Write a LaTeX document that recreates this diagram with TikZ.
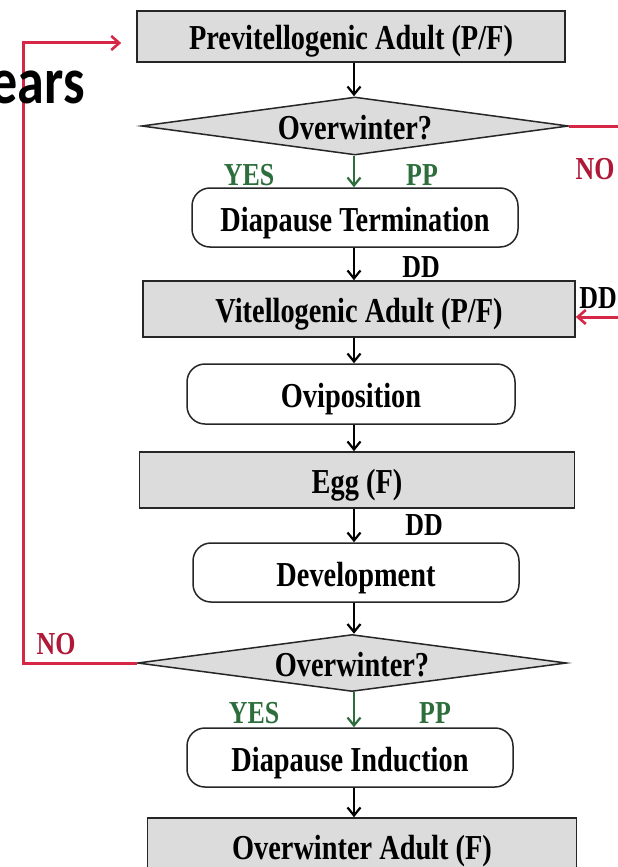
\documentclass[tikz,border=0pt]{standalone}
\usepackage{fontspec}
\setmainfont{Liberation Serif}[FakeStretch=0.81]
\newfontfamily\earsfont{Carlito}[FakeStretch=0.82]
\usetikzlibrary{shapes.geometric,arrows.meta}
\definecolor{boxgray}{RGB}{220,220,220}
\definecolor{lnred}{RGB}{214,40,70}
\definecolor{txred}{RGB}{175,25,55}
\definecolor{txgreen}{RGB}{45,110,60}
\begin{document}
\begin{tikzpicture}[x=1pt,y=-1pt,
  every node/.style={font=\fontsize{35}{40}\selectfont\bfseries},
  txt/.style={text height=27pt,text depth=0pt},
  sqbox/.style={txt,draw=black!85,line width=1.6pt,fill=boxgray,inner sep=0},
  rbox/.style={txt,draw=black!85,line width=1.5pt,fill=white,rounded corners=18pt,
    minimum width=326pt,minimum height=59pt,inner sep=0},
  dia/.style={txt,diamond,draw=black!85,line width=1.5pt,fill=boxgray,aspect=7.4,
    minimum width=427pt,minimum height=58pt,inner sep=0},
  lab/.style={font=\fontsize{32}{36}\selectfont\bfseries,inner sep=0},
  arr/.style={-{Straight Barb[length=8pt,width=13pt,line width=2.2pt]},line width=2.2pt,black},
  garr/.style={-{Straight Barb[length=8pt,width=13pt,line width=2.2pt]},line width=2.2pt,txgreen},
  rline/.style={line width=3pt,lnred},
  rarr/.style={rline,-{Straight Barb[length=8pt,width=14pt,line width=2.6pt]}}
]
\useasboundingbox (0,0) rectangle (618,867);
\fill[white] (0,0) rectangle (618,867);

% nodes
\node[sqbox,minimum width=428pt,minimum height=51pt] (prev) at (351,36.5) {Previtellogenic Adult (P/F)};
\node[dia] (d1) at (355,126) {Overwinter?};
\node[rbox] (dt) at (355,217.5) {Diapause Termination};
\node[sqbox,minimum width=432pt,minimum height=56pt] (vit) at (359,309) {Vitellogenic Adult (P/F)};
\node[rbox,minimum width=328pt,minimum height=60pt] (ovi) at (351,394) {Oviposition};
\node[sqbox,minimum width=435pt,minimum height=56pt] (egg) at (357,480) {Egg (F)};
\node[rbox] (dev) at (356,572.5) {Development};
\node[dia,minimum width=429pt,minimum height=57pt] (d2) at (352,663) {Overwinter?};
\node[rbox] (di) at (350,757.5) {Diapause Induction};
\node[sqbox,minimum width=429pt,minimum height=56pt] (owa) at (362,846) {Overwinter Adult (F)};

% vertical arrows
\coordinate (ax) at (354,0);
\draw[arr]  (prev.south -| ax) -- (d1.north -| ax);
\draw[garr] (d1.south -| ax) -- (dt.north -| ax);
\draw[arr]  (dt.south -| ax) -- (vit.north -| ax);
\draw[arr]  (vit.south -| ax) -- (ovi.north -| ax);
\draw[arr]  (ovi.south -| ax) -- (egg.north -| ax);
\draw[arr]  (egg.south -| ax) -- (dev.north -| ax);
\draw[arr]  (dev.south -| ax) -- (d2.north -| ax);
\draw[garr] (d2.south -| ax) -- (di.north -| ax);
\draw[arr]  (di.south -| ax) -- (owa.north -| ax);

% red loops
\draw[rarr] (d1.east) -- ++(70,0) |- ([yshift=-8pt]vit.east);
\coordinate (lc) at (23,43);
\draw[rarr] (d2.west) -| (lc) -- ([xshift=-15pt,yshift=-6.5pt]prev.west);

% labels
\node[lab,txgreen] (yes1) at (249,175) {YES};
\node[lab,txgreen] (pp1) at (422,175) {PP};
\node[lab,txred] (no1) at (595,169) {NO};
\node[lab] (dd1) at (421,267) {DD};
\node[lab] (dd2) at (598,298) {DD};
\node[lab] (dd3) at (424,525) {DD};
\node[lab,txred] (no2) at (56,644) {NO};
\node[lab,txgreen] (yes2) at (254,713) {YES};
\node[lab,txgreen] (pp2) at (435,713) {PP};

% partial title
\node[font=\earsfont\fontsize{66}{70}\selectfont\bfseries,anchor=base east,inner sep=0] (ears) at (85,103) {ears};
\end{tikzpicture}
\end{document}
